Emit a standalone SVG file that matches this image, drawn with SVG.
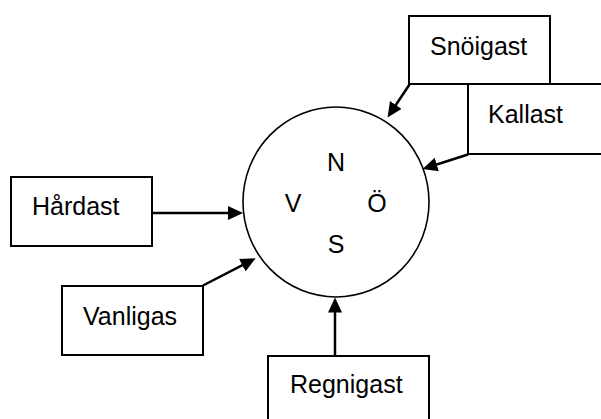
<svg xmlns="http://www.w3.org/2000/svg" width="601" height="419" viewBox="0 0 601 419">
<style>
.box{fill:#fff;stroke:#000;stroke-width:2}
.lbl{font-family:"Liberation Sans",Arial,sans-serif;font-size:25px;fill:#000}
.dir{font-family:"Liberation Sans",Arial,sans-serif;font-size:25px;fill:#000;text-anchor:middle}
.conn{stroke:#000;stroke-width:2.5;fill:none;marker-end:url(#ah)}
</style>
<defs>
<marker id="ah" markerUnits="userSpaceOnUse" markerWidth="16" markerHeight="15" refX="10" refY="7" orient="auto">
<path d="M0,0 L15,7 L0,14 z" fill="#000"/>
</marker>
</defs>
<rect width="601" height="419" fill="#fff"/>
<g id="center">
<ellipse cx="336" cy="202" rx="93" ry="95" fill="#fff" stroke="#000" stroke-width="1.6"/>
<text class="dir" x="336" y="171">N</text>
<text class="dir" x="293" y="212">V</text>
<text class="dir" x="377" y="212">Ö</text>
<text class="dir" x="336" y="253">S</text>
</g>
<g id="snoigast">
<rect class="box" x="409" y="16" width="141" height="68"/>
<text class="lbl" x="430" y="55">Snöigast</text>
</g>
<g id="kallast">
<rect class="box" x="468" y="84" width="140" height="70"/>
<text class="lbl" x="488" y="123">Kallast</text>
</g>
<g id="hardast">
<rect class="box" x="11" y="177" width="141" height="69"/>
<text class="lbl" x="32" y="215">Hårdast</text>
</g>
<g id="vanligas">
<rect class="box" x="62" y="286" width="141" height="69"/>
<text class="lbl" x="83" y="325">Vanligas</text>
</g>
<g id="regnigast">
<rect class="box" x="268" y="356" width="161" height="70"/>
<text class="lbl" x="290" y="393">Regnigast</text>
</g>
<g id="connectors">
<line class="conn" x1="152" y1="213" x2="238" y2="213"/>
<line class="conn" x1="203" y1="285.5" x2="251.2" y2="260.6"/>
<line class="conn" x1="335" y1="356" x2="335" y2="302.5"/>
<line class="conn" x1="409.5" y1="84.5" x2="390.3" y2="113.3"/>
<line class="conn" x1="468" y1="154.5" x2="427.3" y2="167.5"/>
</g>
</svg>
